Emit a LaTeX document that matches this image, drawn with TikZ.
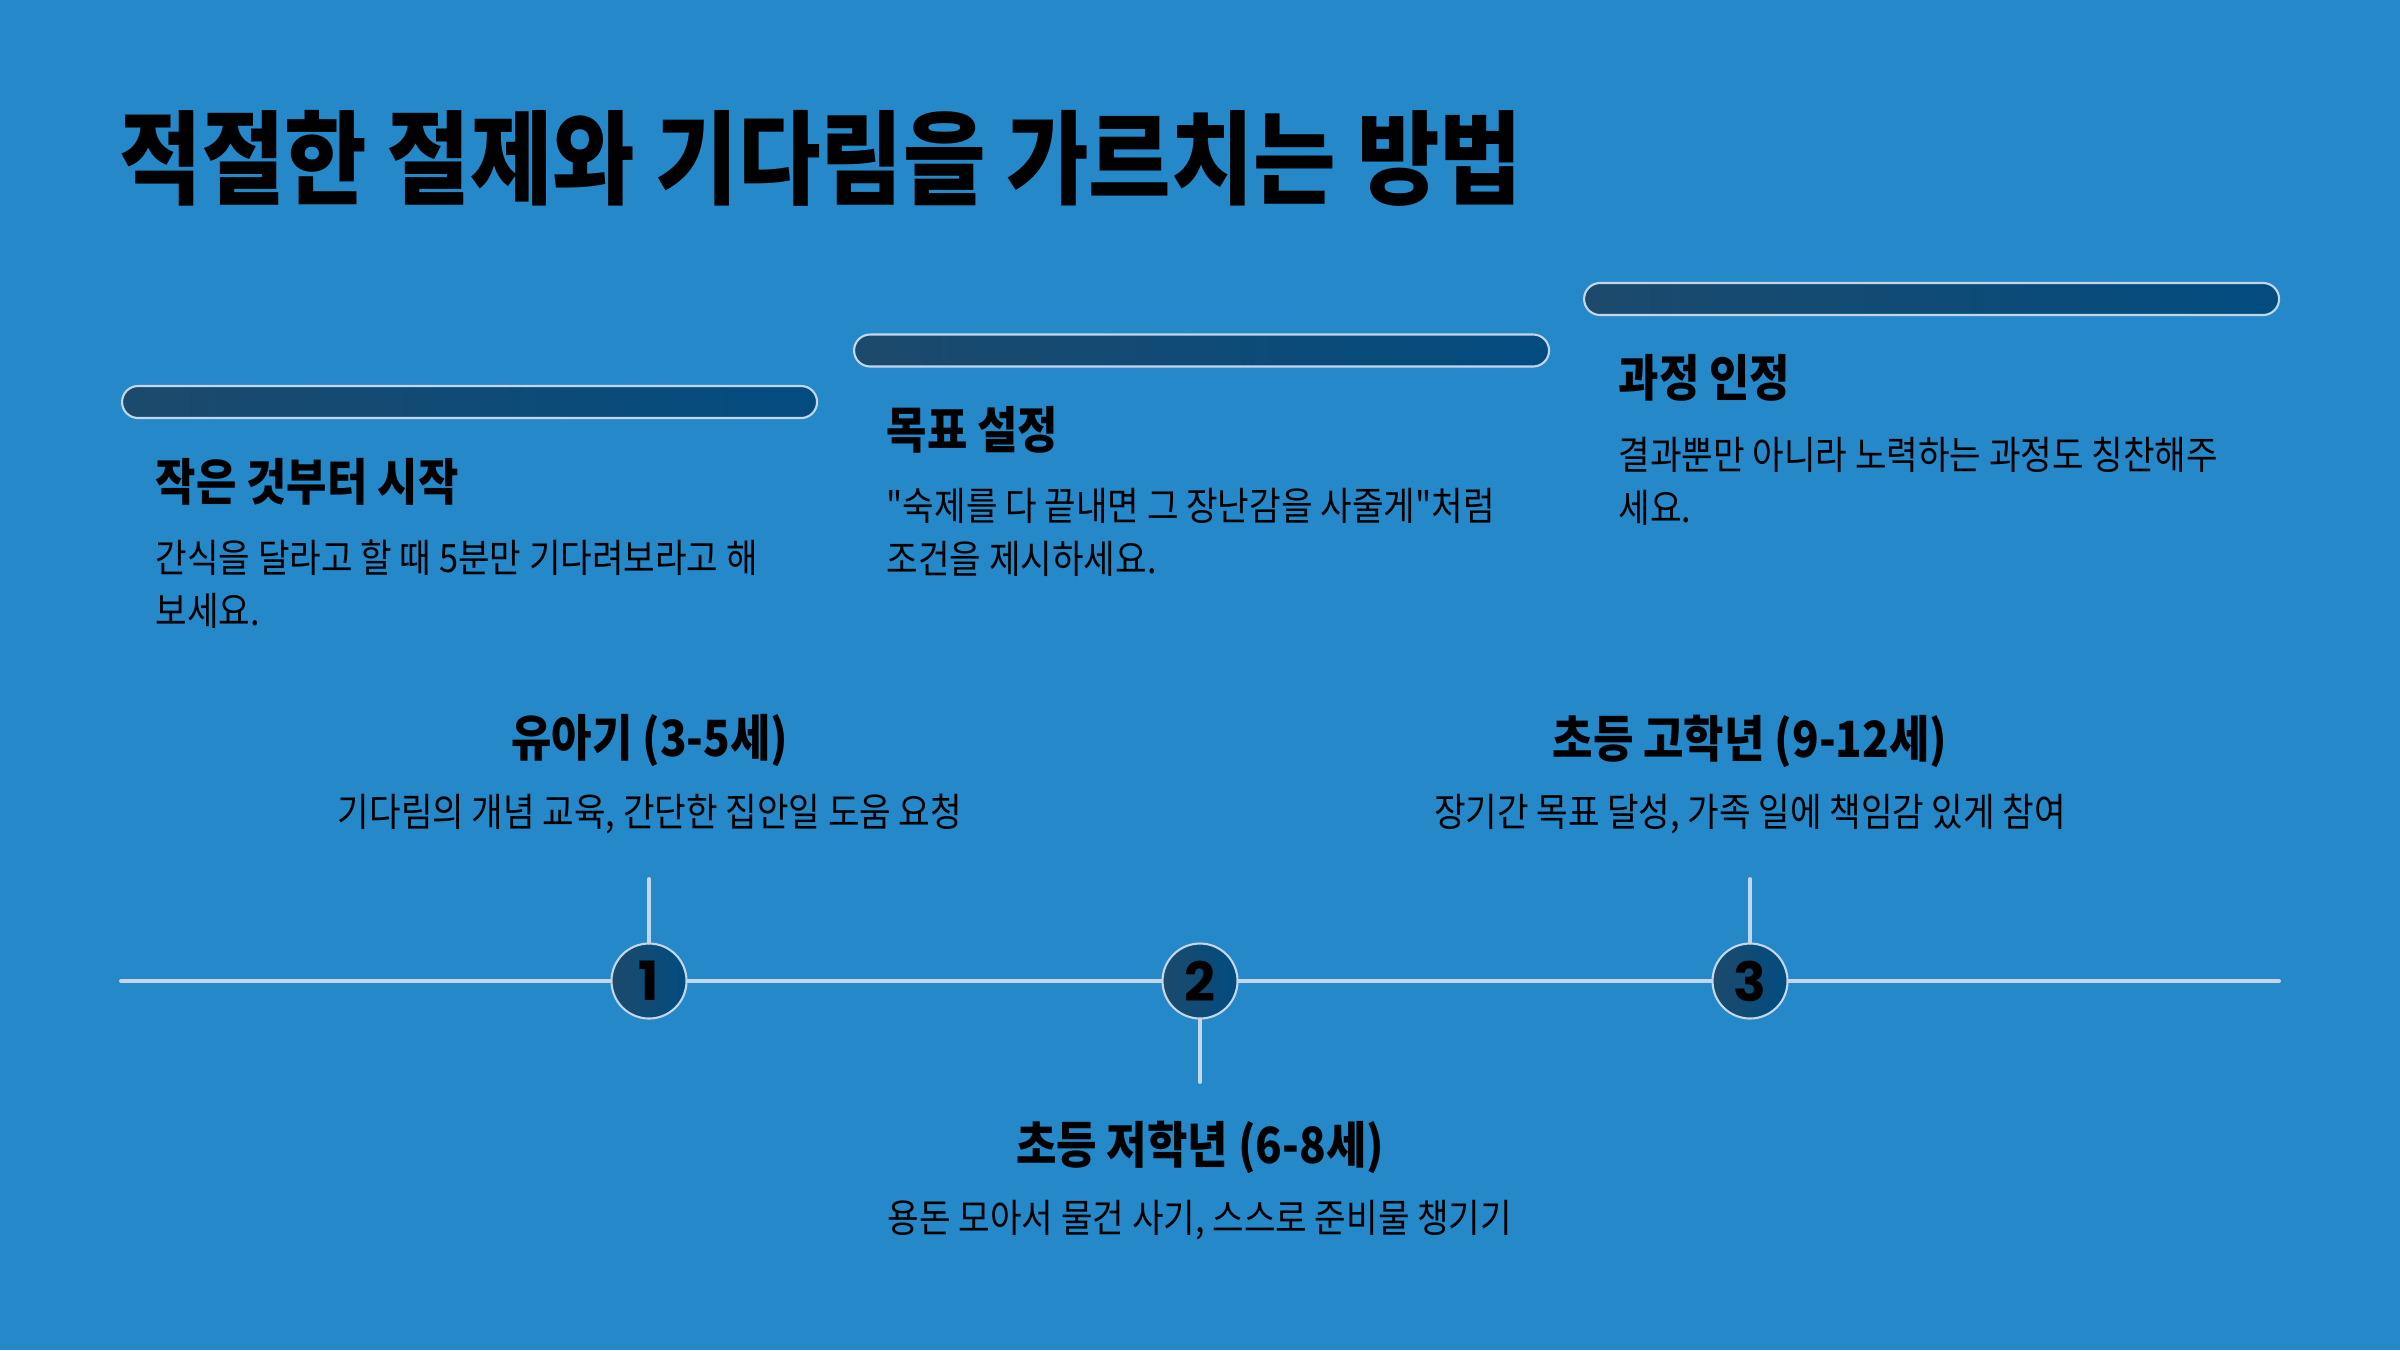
\documentclass[tikz,border=0pt]{standalone}
\usepackage{fontspec}
\setmainfont{Noto Sans CJK KR}[FakeStretch=0.88, Ligatures=TeXOff]
\newfontfamily\numfont{Poppins}
\usepackage{tikz}
\usetikzlibrary{positioning,calc}
\usepackage{xcolor}

\definecolor{pagebg}{HTML}{2588C9}
\definecolor{rule}{HTML}{C4D6E8}
\definecolor{barleft}{HTML}{1C4A6C}
\definecolor{barright}{HTML}{024C80}

\begin{document}
\begin{tikzpicture}[
    every node/.style={text=black, inner sep=0pt},
    barbox/.style={draw=rule, line width=0.6pt, left color=barleft, right color=barright, minimum width=6.95cm, minimum height=0.32cm, rounded corners=0.16cm, anchor=west},
    cardhead/.style={anchor=west, font=\fontsize{14.2}{17}\selectfont\bfseries},
    cardbody/.style={anchor=west, align=left, font=\fontsize{11.1}{15.1}\selectfont},
    stagehead/.style={font=\fontsize{14.2}{17}\selectfont\bfseries},
    stagebody/.style={font=\fontsize{11.1}{15.1}\selectfont},
    stepdot/.style={circle, draw=rule, line width=0.6pt, left color=barleft, right color=barright, minimum size=0.75cm, font=\numfont\fontsize{15.4}{18}\selectfont\bfseries},
    ruleline/.style={draw=rule, line width=1.1pt, line cap=round}]
        % page
        \fill[pagebg] (0,0) rectangle (24,-13.5);
        \useasboundingbox (0,0) rectangle (24,-13.5);
        \node[anchor=west, font=\fontsize{29}{34}\selectfont\bfseries] (title) at (1.19,-1.58) {적절한 절제와 기다림을 가르치는 방법};

        % cards
        \node[barbox] (bar1) at (1.21,-4.02) {};
        \node[cardhead] (head1) at (1.55,-4.82) {작은 것부터 시작};
        \node[cardbody] (body1) at (1.55,-5.84) {간식을 달라고 할 때 5분만 기다려보라고 해\\보세요.};

        \node[barbox] (bar2) at (8.53,-3.505) {};
        \node[cardhead] (head2) at (8.86,-4.30) {목표 설정};
        \node[cardbody] (body2) at (8.86,-5.32) {"숙제를 다 끝내면 그 장난감을 사줄게"처럼\\조건을 제시하세요.};

        \node[barbox] (bar3) at (15.83,-2.99) {};
        \node[cardhead] (head3) at (16.18,-3.78) {과정 인정};
        \node[cardbody] (body3) at (16.18,-4.81) {결과뿐만 아니라 노력하는 과정도 칭찬해주\\세요.};

        % timeline
        \coordinate (tl-start) at (1.21,-9.81);
        \coordinate (tl-end) at (22.79,-9.81);
        \draw[ruleline] (tl-start) -- (tl-end);

        \node[stepdot] (dot1) at (6.49,-9.81) {1};
        \node[stepdot] (dot2) at (12.00,-9.81) {2};
        \node[stepdot] (dot3) at (17.50,-9.81) {3};

        \coordinate (tick1) at (6.49,-8.79);
        \coordinate (tick2) at (12.00,-10.82);
        \coordinate (tick3) at (17.50,-8.79);
        \draw[ruleline] (tick1) -- (dot1);
        \draw[ruleline] (tick2) -- (dot2);
        \draw[ruleline] (tick3) -- (dot3);

        % stages
        \node[stagehead] (stage1) at (6.50,-7.41) {유아기 (3-5세)};
        \node[stagebody] (desc1) at (6.50,-8.14) {기다림의 개념 교육, 간단한 집안일 도움 요청};
        \node[stagehead] (stage2) at (12.00,-11.47) {초등 저학년 (6-8세)};
        \node[stagebody] (desc2) at (12.00,-12.20) {용돈 모아서 물건 사기, 스스로 준비물 챙기기};
        \node[stagehead] (stage3) at (17.50,-7.41) {초등 고학년 (9-12세)};
        \node[stagebody] (desc3) at (17.50,-8.14) {장기간 목표 달성, 가족 일에 책임감 있게 참여};
    \end{tikzpicture}
\end{document}
